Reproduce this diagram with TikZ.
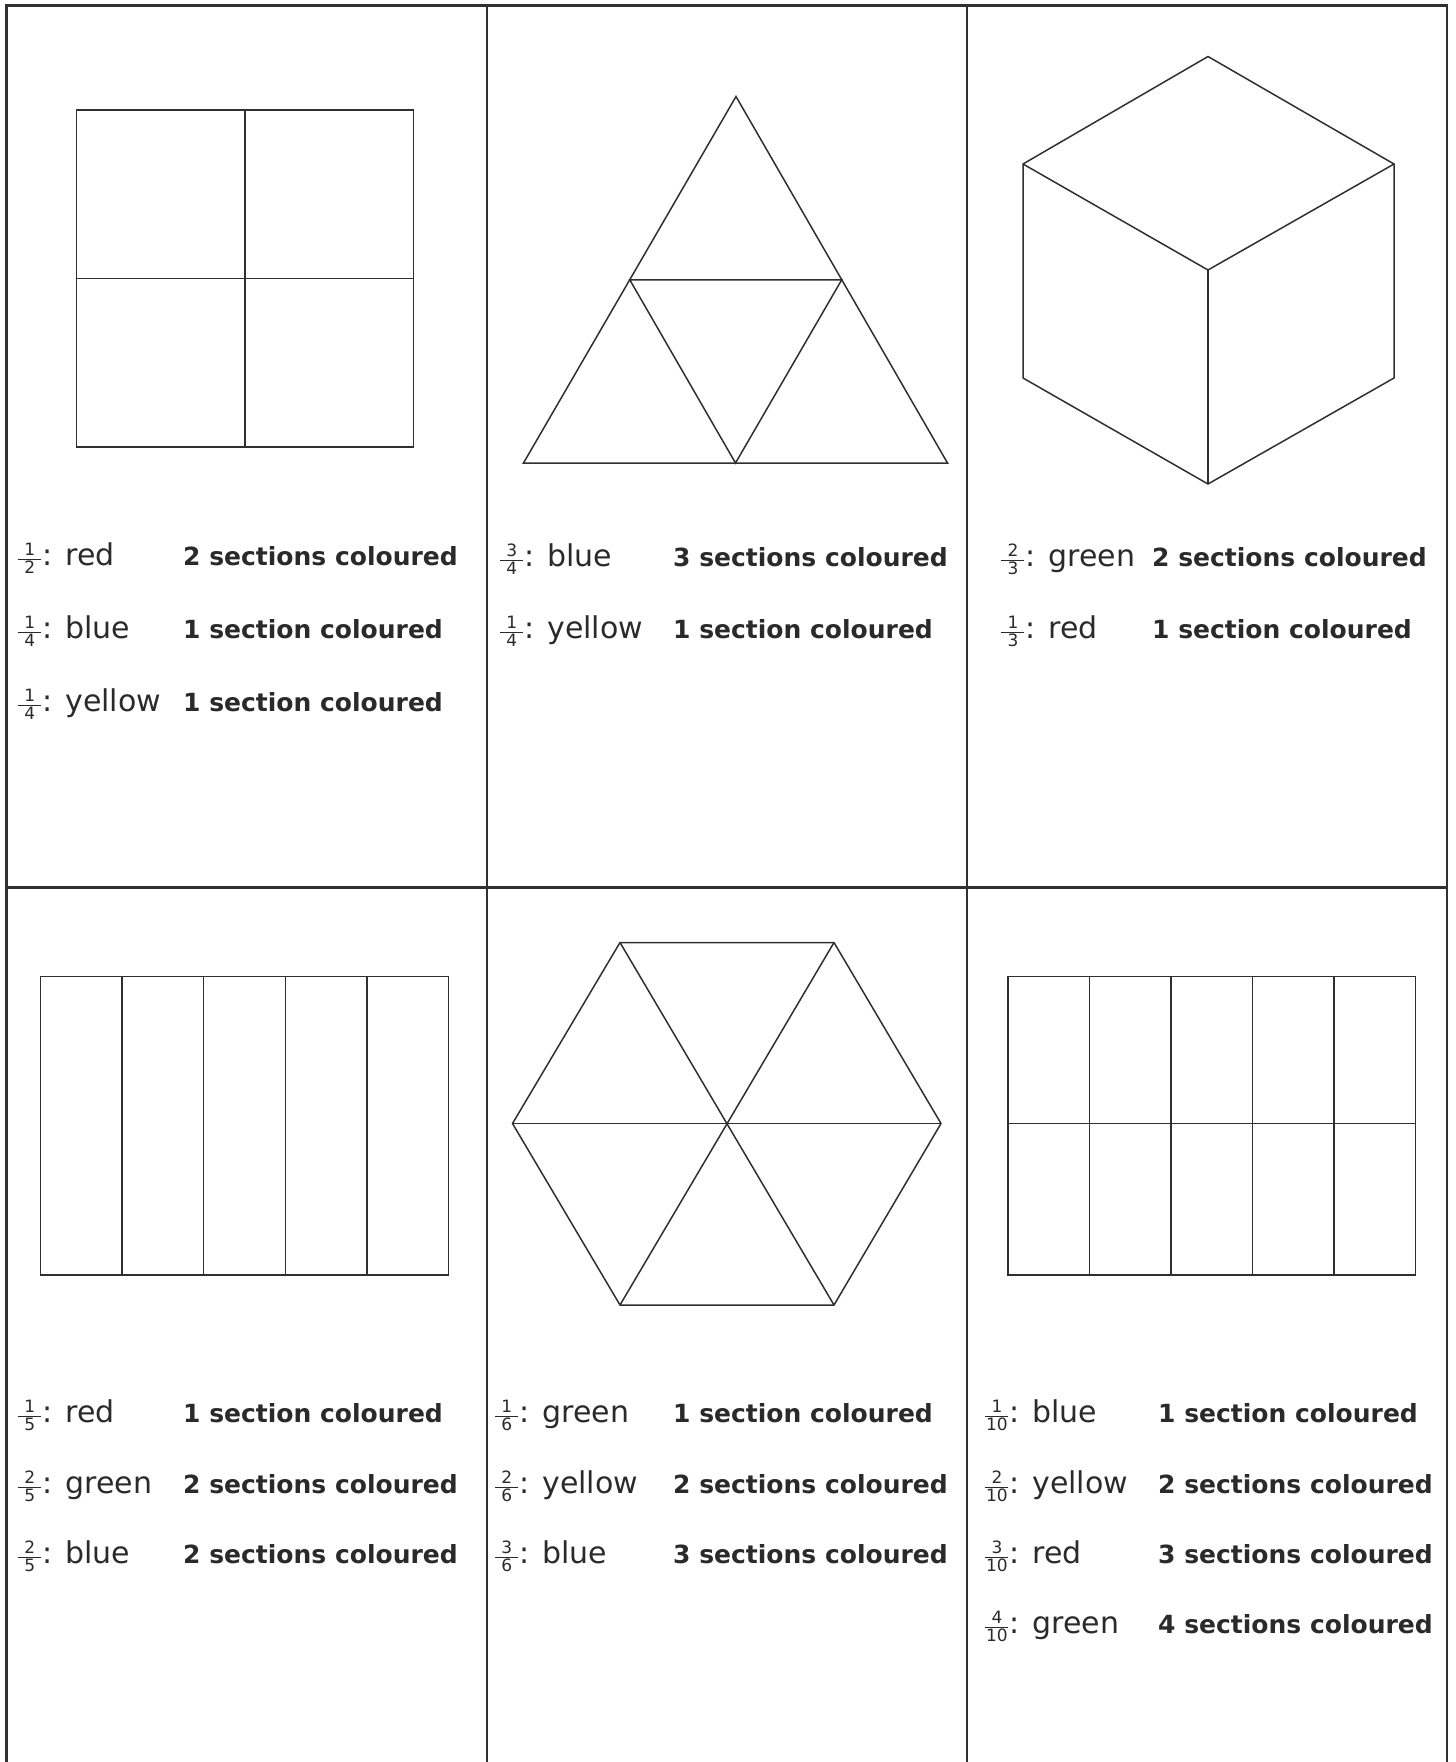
\documentclass[tikz,border=0pt]{standalone}
\usepackage{fontspec}
\usetikzlibrary{calc}
\setmainfont{DejaVu Sans}
\definecolor{ink}{HTML}{2A2A2A}
\definecolor{gridc}{HTML}{303030}
\newcommand\fr[2]{$\frac{\hbox to 23pt{\hss\fontsize{17}{17}\selectfont #1\hss}}{\hbox to 23pt{\hss\fontsize{17}{17}\selectfont #2\hss}}$}
\tikzset{
  gridline/.style={draw=gridc, line width=2.6pt},
  shapeline/.style={draw=gridc, line width=1.5pt, line join=miter},
  colourtxt/.style={anchor=base west, inner sep=0pt, text=ink, font=\fontsize{30}{34}\selectfont},
  counttxt/.style={anchor=base west, inner sep=0pt, text=ink, font=\fontsize{25}{30}\selectfont\bfseries}
}
\begin{document}
\begin{tikzpicture}[x=1pt,y=-1pt]
\useasboundingbox (0,0) rectangle (1456,1762);
% grid
\coordinate (g1t) at (6.5,5.5);   \coordinate (g1b) at (6.5,1762);
\coordinate (g2t) at (487,5.5);   \coordinate (g2b) at (487,1762);
\coordinate (g3t) at (967,5.5);   \coordinate (g3b) at (967,1762);
\coordinate (g4t) at (1447,5.5);  \coordinate (g4b) at (1447,1762);
\coordinate (hmL) at (6.5,887.5); \coordinate (hmR) at (1447,887.5);
\draw[gridline] (g1b) -- (g1t) -- (g4t) -- (g4b);
\draw[gridline] (g2t) -- (g2b);
\draw[gridline] (g3t) -- (g3b);
\draw[gridline] (hmL) -- (hmR);

% square (halves/quarters)
\draw[shapeline] (76.5,110) rectangle (413.5,447);
\draw[shapeline] (245,110) -- (245,447);
\draw[shapeline] (76.5,278.5) -- (413.5,278.5);

% triangle
\coordinate (tA) at (736,96.5);
\coordinate (tL) at (523.5,463);
\coordinate (tR) at (947.5,463);
\coordinate (tML) at ($(tA)!0.5!(tL)$);
\coordinate (tMR) at ($(tA)!0.5!(tR)$);
\coordinate (tMB) at ($(tL)!0.5!(tR)$);
\draw[shapeline] (tA) -- (tR) -- (tL) -- cycle;
\draw[shapeline] (tML) -- (tMR) -- (tMB) -- cycle;

% cube
\coordinate (cT) at (1208,56.5);
\coordinate (cL) at (1023,164);
\coordinate (cR) at (1394,164);
\coordinate (cC) at (1208,270);
\coordinate (cLL) at (1023,378);
\coordinate (cRL) at (1394,378);
\coordinate (cB) at (1208,484);
\draw[shapeline] (cT) -- (cR) -- (cRL) -- (cB) -- (cLL) -- (cL) -- cycle;
\draw[shapeline] (cL) -- (cC) -- (cR);
\draw[shapeline] (cC) -- (cB);

% fifths rectangle
\draw[shapeline] (40.5,976.5) rectangle (448.5,1275);
\foreach \i in {1,2,3,4} {\draw[shapeline] ({40.5+\i*81.6},976.5) -- ({40.5+\i*81.6},1275);}

% hexagon
\coordinate (hC) at (727,1123.5);
\coordinate (hW) at (512.5,1123.5);
\coordinate (hE) at (941,1123.5);
\coordinate (hNW) at (620,942.5);
\coordinate (hNE) at (834,942.5);
\coordinate (hSW) at (620,1305);
\coordinate (hSE) at (834,1305);
\draw[shapeline] (hW) -- (hNW) -- (hNE) -- (hE) -- (hSE) -- (hSW) -- cycle;
\draw[shapeline] (hW) -- (hE);
\draw[shapeline] (hNW) -- (hSE);
\draw[shapeline] (hNE) -- (hSW);

% tenths rectangle
\draw[shapeline] (1008,976.5) rectangle (1415.5,1275);
\draw[shapeline] (1008,1123.5) -- (1415.5,1123.5);
\foreach \i in {1,2,3,4} {\draw[shapeline] ({1008+\i*81.5},976.5) -- ({1008+\i*81.5},1275);}

% texts: top row, column 1
\node[colourtxt] (a1) at (17,565) {\fr{1}{2}: red};
\node[counttxt]  (b1) at (183,565) {2 sections coloured};
\node[colourtxt] (a2) at (17,638) {\fr{1}{4}: blue};
\node[counttxt]  (b2) at (183,638) {1 section coloured};
\node[colourtxt] (a3) at (17,711) {\fr{1}{4}: yellow};
\node[counttxt]  (b3) at (183,711) {1 section coloured};
% column 2
\node[colourtxt] (c1) at (499,566) {\fr{3}{4}: blue};
\node[counttxt]  (d1) at (673,566) {3 sections coloured};
\node[colourtxt] (c2) at (499,638) {\fr{1}{4}: yellow};
\node[counttxt]  (d2) at (673,638) {1 section coloured};
% column 3
\node[colourtxt] (e1) at (1000,566) {\fr{2}{3}: green};
\node[counttxt]  (f1) at (1152,566) {2 sections coloured};
\node[colourtxt] (e2) at (1000,638) {\fr{1}{3}: red};
\node[counttxt]  (f2) at (1152,638) {1 section coloured};

% bottom row, column 1
\node[colourtxt] (g1) at (17,1422) {\fr{1}{5}: red};
\node[counttxt]  (h1) at (183,1422) {1 section coloured};
\node[colourtxt] (g2) at (17,1493) {\fr{2}{5}: green};
\node[counttxt]  (h2) at (183,1493) {2 sections coloured};
\node[colourtxt] (g3) at (17,1563) {\fr{2}{5}: blue};
\node[counttxt]  (h3) at (183,1563) {2 sections coloured};
% column 2
\node[colourtxt] (i1) at (494,1422) {\fr{1}{6}: green};
\node[counttxt]  (j1) at (673,1422) {1 section coloured};
\node[colourtxt] (i2) at (494,1493) {\fr{2}{6}: yellow};
\node[counttxt]  (j2) at (673,1493) {2 sections coloured};
\node[colourtxt] (i3) at (494,1563) {\fr{3}{6}: blue};
\node[counttxt]  (j3) at (673,1563) {3 sections coloured};
% column 3
\node[colourtxt] (k1) at (984,1422) {\fr{1}{10}: blue};
\node[counttxt]  (l1) at (1158,1422) {1 section coloured};
\node[colourtxt] (k2) at (984,1493) {\fr{2}{10}: yellow};
\node[counttxt]  (l2) at (1158,1493) {2 sections coloured};
\node[colourtxt] (k3) at (984,1563) {\fr{3}{10}: red};
\node[counttxt]  (l3) at (1158,1563) {3 sections coloured};
\node[colourtxt] (k4) at (984,1633) {\fr{4}{10}: green};
\node[counttxt]  (l4) at (1158,1633) {4 sections coloured};
\end{tikzpicture}
\end{document}
